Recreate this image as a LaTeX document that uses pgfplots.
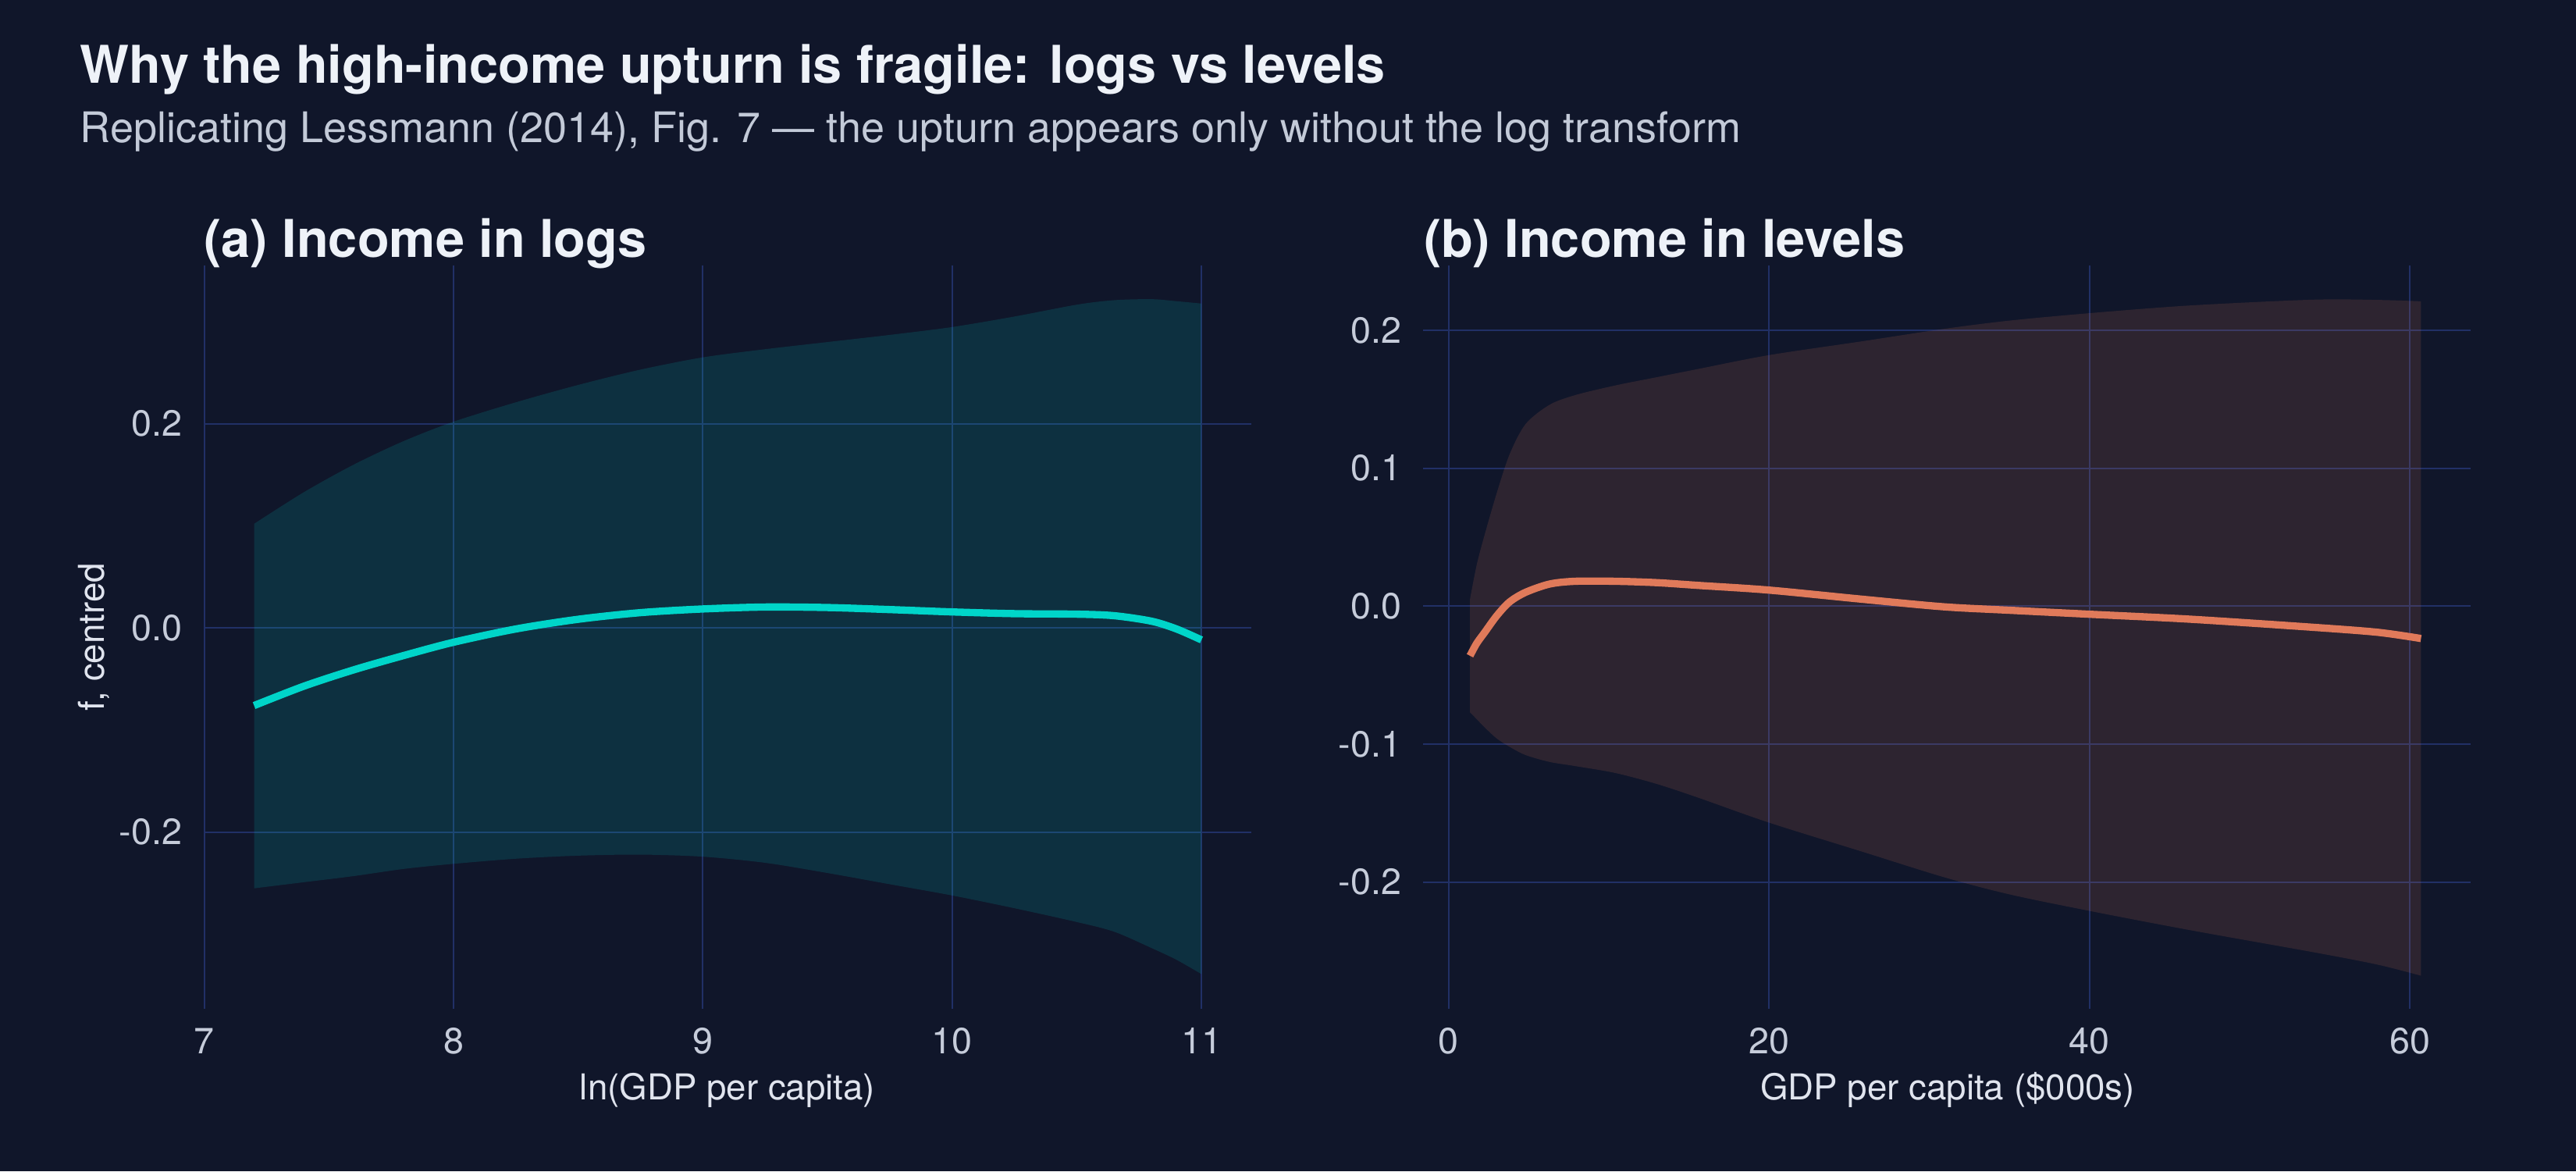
\documentclass[border=0pt]{standalone}
\usepackage{pgfplots}
\pgfplotsset{compat=1.18}
\usepackage{pgfplotstable}
\usepgfplotslibrary{fillbetween}
\usepackage{fontspec}
\setmainfont{TeX Gyre Heros}

\definecolor{bgc}{HTML}{10162A}
\definecolor{gridc}{HTML}{213066}
\definecolor{titlec}{HTML}{EEF2F8}
\definecolor{subc}{HTML}{C3CAD8}
\definecolor{tickc}{HTML}{C6CCDA}
\definecolor{labc}{HTML}{E0E4EE}
\definecolor{logc}{HTML}{00D5C9}
\definecolor{levc}{HTML}{E07A5A}
\pagecolor{bgc}

% panel (a): ln(GDP per capita), fit and band
\pgfplotstableread{
x     fit      lo       hi
7.20  -0.0760  -0.255   0.102
7.40  -0.0570  -0.249   0.133
7.60  -0.0410  -0.243   0.160
7.80  -0.0270  -0.236   0.183
8.00  -0.0140  -0.231   0.202
8.25  -0.0010  -0.226   0.221
8.50   0.0085  -0.223   0.238
8.75   0.0150  -0.222   0.253
9.00   0.0186  -0.224   0.265
9.25   0.0205  -0.230   0.273
9.50   0.0200  -0.240   0.280
9.75   0.0180  -0.251   0.287
10.00  0.0157  -0.262   0.2947
10.25  0.0140  -0.2745  0.305
10.50  0.0135  -0.288   0.3166
10.65  0.0120  -0.2975  0.321
10.80  0.0066  -0.3135  0.322
10.90 -0.0010  -0.325   0.320
11.00 -0.0117  -0.339   0.3177
}\tabA

% panel (b): GDP per capita in $000s, fit and band
\pgfplotstableread{
x     fit      lo      hi
1.33  -0.0360  -0.077  0.005
1.75  -0.0270  -0.082  0.030
2.25  -0.0190  -0.088  0.052
3.00  -0.0070  -0.096  0.082
3.80   0.0030  -0.102  0.110
4.80   0.0100  -0.108  0.132
6.30   0.0160  -0.113  0.146
7.90   0.0180  -0.116  0.153
10.40  0.0180  -0.121  0.160
13.00  0.0170  -0.129  0.166
15.60  0.0150  -0.139  0.172
20.00  0.0116  -0.157  0.182
25.80  0.0050  -0.178  0.192
30.90 -0.0005  -0.1965 0.201
35.00 -0.0030  -0.209  0.207
40.00 -0.0059  -0.221  0.2124
46.30 -0.0095  -0.235  0.218
54.00 -0.0154  -0.251  0.2222
58.00 -0.0190  -0.260  0.222
60.70 -0.0235  -0.268  0.221
}\tabB

\pgfplotsset{
  panel/.style={
    scale only axis, width=402.6pt, height=285.6pt, anchor=south west,
    axis line style={draw=none}, tick style={draw=none},
    grid=major, major grid style={line width=0.6pt, draw=gridc},
    ticklabel style={font=\fontsize{14}{16}\selectfont, text=tickc},
    xticklabel style={anchor=base, yshift=-17.2pt, inner sep=0pt},
    yticklabel style={anchor=east, xshift=-8.2pt, inner sep=0pt},
    /pgf/number format/assume math mode=true,
  },
}

\begin{document}
\begin{tikzpicture}
\path (0,0) rectangle (990pt,450pt);

\node[anchor=base west, text=titlec, font=\bfseries\fontsize{20}{23}\selectfont, inner sep=0pt]
  at (30.6pt,418.1pt) {Why the high-income upturn is fragile: logs vs levels};
\node[anchor=base west, text=subc, font=\fontsize{16.2}{19}\selectfont, inner sep=0pt]
  at (30.6pt,395.1pt) {Replicating Lessmann (2014), Fig. 7 — the upturn appears only without the log transform};

% (a) income in logs
\begin{axis}[panel, at={(78.3pt,62.4pt)},
  xmin=6.998, xmax=11.2, ymin=-0.373, ymax=0.355,
  xtick={7,8,9,10,11}, ytick={-0.2,0,0.2}, yticklabels={-0.2,0.0,0.2}]
  \addplot[name path=upA, draw=none, smooth] table[x=x, y=hi] {\tabA};
  \addplot[name path=loA, draw=none, smooth] table[x=x, y=lo] {\tabA};
  \addplot[fill=logc, fill opacity=0.14, draw=none] fill between[of=upA and loA];
  \addplot[logc, line width=2.8pt, smooth] table[x=x, y=fit] {\tabA};
\end{axis}

% (b) income in levels
\begin{axis}[panel, at={(546.9pt,62.4pt)},
  xmin=-1.6, xmax=63.8, ymin=-0.292, ymax=0.247,
  xtick={0,20,40,60}, ytick={-0.2,-0.1,0,0.1,0.2},
  yticklabels={-0.2,-0.1,0.0,0.1,0.2}]
  \addplot[name path=upB, draw=none, smooth] table[x=x, y=hi] {\tabB};
  \addplot[name path=loB, draw=none, smooth] table[x=x, y=lo] {\tabB};
  \addplot[fill=levc, fill opacity=0.14, draw=none] fill between[of=upB and loB];
  \addplot[levc, line width=2.8pt, smooth] table[x=x, y=fit] {\tabB};
\end{axis}

\node[anchor=base west, text=titlec, font=\bfseries\fontsize{20}{23}\selectfont, inner sep=0pt]
  at (78.3pt,351pt) {(a) Income in logs};
\node[anchor=base west, text=titlec, font=\bfseries\fontsize{20}{23}\selectfont, inner sep=0pt]
  at (547pt,351pt) {(b) Income in levels};

\node[anchor=base, text=labc, font=\fontsize{13.7}{16}\selectfont, inner sep=0pt]
  at (279.6pt,27.6pt) {ln(GDP per capita)};
\node[anchor=base, text=labc, font=\fontsize{13.7}{16}\selectfont, inner sep=0pt]
  at (748.5pt,27.6pt) {GDP per capita (\$000s)};
\node[rotate=90, anchor=base, text=labc, font=\fontsize{13.7}{16}\selectfont, inner sep=0pt]
  at (39.9pt,205.2pt) {f, centred};
\end{tikzpicture}
\end{document}
